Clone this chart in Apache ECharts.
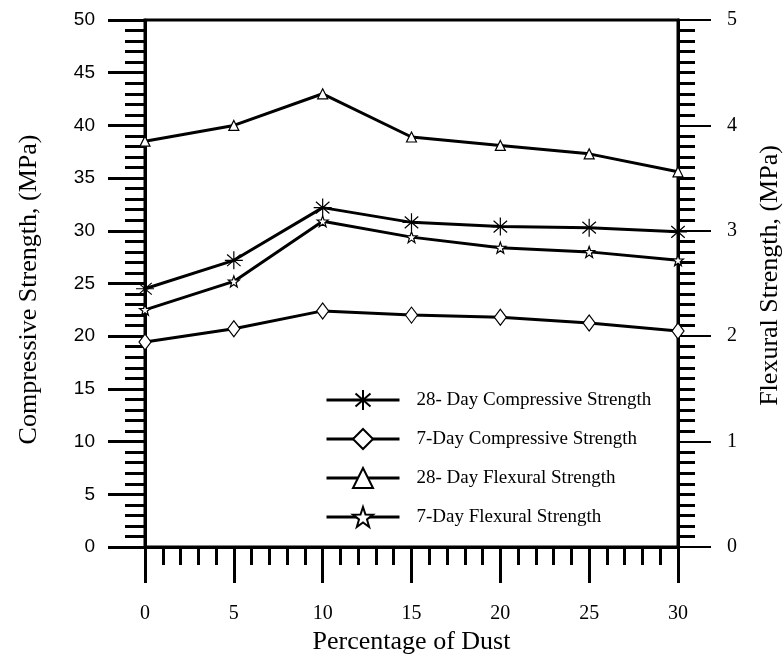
<!DOCTYPE html>
<html>
<head>
<meta charset="utf-8">
<script src="https://cdn.jsdelivr.net/npm/echarts@6/dist/echarts.min.js"></script>
<style>
  html, body { margin: 0; padding: 0; background: #fff; }
  #chart { width: 784px; height: 654px; }
</style>
</head>
<body>
<div id="chart"></div>
<script>
const dust = [0, 5, 10, 15, 20, 25, 30];
const comp28 = [24.5, 27.2, 32.2, 30.8, 30.4, 30.3, 29.9];
const comp7 = [19.45, 20.7, 22.4, 22.0, 21.8, 21.25, 20.5];
const flex28 = [3.85, 4.0, 4.3, 3.89, 3.81, 3.73, 3.56];
const flex7 = [2.25, 2.52, 3.09, 2.94, 2.84, 2.8, 2.72];
const names = [
  "28- Day Compressive Strength",
  "7-Day Compressive Strength",
  "28- Day Flexural Strength",
  "7-Day Flexural Strength"
];

const asterisk = "path://M0,-10L0,10M-10,0L10,0M-7.5,-6.5L7.5,6.5M-7.5,6.5L7.5,-6.5";
const star = "path://M0,-10L2.35,-3.24L9.51,-3.09L3.8,1.24L5.88,8.09L0,4L-5.88,8.09L-3.8,1.24L-9.51,-3.09L-2.35,-3.24Z";

function pairs(vals) {
  return dust.map((d, i) => [d, vals[i]]);
}

function makeSeries(name, vals, axis, symbol, size) {
  return {
    name: name,
    type: "line",
    yAxisIndex: axis,
    data: pairs(vals),
    symbol: symbol,
    symbolSize: size,
    showAllSymbol: true,
    lineStyle: { color: "#000", width: 3 },
    itemStyle: { color: "#fff", borderColor: "#000", borderWidth: 1.2 },
    emphasis: { disabled: true },
    animation: false
  };
}

const serif = "Liberation Serif";
const chart = echarts.init(document.getElementById("chart"));

const option = {
  backgroundColor: "#fff",
  animation: false,
  grid: {
    left: 145, right: 106, top: 20, bottom: 107,
    outerBoundsMode: "none",
    containLabel: false,
    show: true, borderColor: "#000", borderWidth: 3
  },
  legend: {
    orient: "vertical",
    left: 320,
    top: 384,
    itemWidth: 73,
    itemHeight: 25,
    itemGap: 17,
    lineStyle: { width: 3 },
    textStyle: { fontFamily: serif, fontSize: 19, color: "#000", padding: [0, 0, 0, 12] },
    data: names
  },
  xAxis: {
    type: "value",
    min: 0,
    max: 30,
    interval: 5,
    name: "Percentage of Dust",
    nameLocation: "middle",
    nameGap: 73,
    nameTextStyle: { fontFamily: serif, fontSize: 26, color: "#000" },
    axisLine: { lineStyle: { color: "#000", width: 3 } },
    axisTick: { length: 36, lineStyle: { color: "#000", width: 3 } },
    minorTick: { show: true, splitNumber: 5, length: 18, lineStyle: { color: "#000", width: 3 } },
    splitLine: { show: false },
    axisLabel: { margin: 57, fontFamily: serif, fontSize: 20, color: "#000" }
  },
  yAxis: [
    {
      type: "value",
      position: "left",
      min: 0,
      max: 50,
      interval: 5,
      name: "Compressive Strength, (MPa)",
      nameLocation: "middle",
      nameGap: 103,
      nameTextStyle: { fontFamily: serif, fontSize: 26, color: "#000", padding: [0, 12, 0, 0] },
      axisLine: { show: true, lineStyle: { color: "#000", width: 3 } },
      axisTick: { show: true, length: 37, lineStyle: { color: "#000", width: 3 } },
      minorTick: { show: true, splitNumber: 5, length: 20, lineStyle: { color: "#000", width: 3 } },
      splitLine: { show: false },
      axisLabel: { margin: 50, fontFamily: "Liberation Sans", fontSize: 19, color: "#000" }
    },
    {
      type: "value",
      position: "right",
      min: 0,
      max: 5,
      interval: 1,
      name: "Flexural Strength, (MPa)",
      nameLocation: "middle",
      nameGap: 79,
      nameTextStyle: { fontFamily: serif, fontSize: 26, color: "#000", padding: [0, 0, 0, 16] },
      axisLine: { show: true, lineStyle: { color: "#000", width: 3 } },
      axisTick: { show: true, length: 33, lineStyle: { color: "#000", width: 2 } },
      minorTick: { show: true, splitNumber: 10, length: 17, lineStyle: { color: "#000", width: 3 } },
      splitLine: { show: false },
      axisLabel: { margin: 49, fontFamily: serif, fontSize: 20, color: "#000" }
    }
  ],
  series: [
    makeSeries(names[0], comp28, 0, asterisk, 18),
    makeSeries(names[1], comp7, 0, "diamond", [12, 16]),
    makeSeries(names[2], flex28, 1, "triangle", 10),
    makeSeries(names[3], flex7, 1, star, 11)
  ]
};
chart.setOption(option);
</script>
</body>
</html>
